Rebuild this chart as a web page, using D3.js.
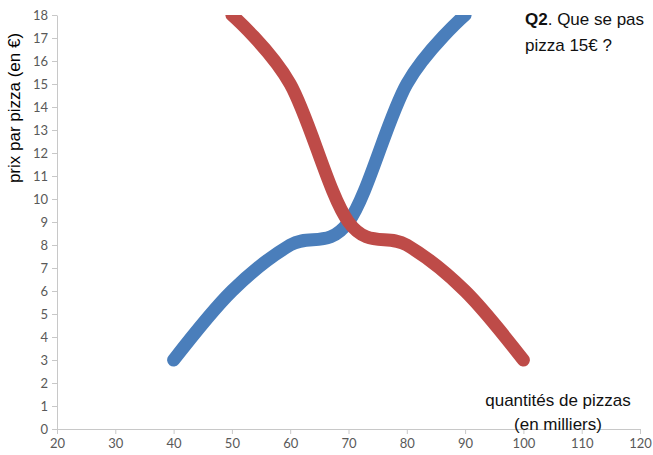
<!DOCTYPE html>
<html>
<head>
<meta charset="utf-8">
<script src="https://cdn.jsdelivr.net/npm/d3@7"></script>
<style>
  html, body { margin: 0; padding: 0; background: #fff; }
  svg { display: block; }
</style>
</head>
<body>
<script>
// Supply / demand data (quantity in thousands, price in €)
const xTicks = [20, 30, 40, 50, 60, 70, 80, 90, 100, 110, 120];
const yTicks = [0, 1, 2, 3, 4, 5, 6, 7, 8, 9, 10, 11, 12, 13, 14, 15, 16, 17, 18];
const offreQty = [40, 50, 60, 70, 80, 90];
const offrePrix = [3, 6, 8, 9, 15, 18];
const demandeQty = [50, 60, 70, 80, 90, 100];
const demandePrix = [18, 15, 9, 8, 6, 3];

const W = 653, H = 455;
const svg = d3.select("body").append("svg").attr("width", W).attr("height", H);

const x = d3.scaleLinear().domain([20, 120]).range([57, 640]);
const y = d3.scaleLinear().domain([0, 18]).range([429, 15]);

// plot area clip (curves are cut at the top of the value range)
svg.append("clipPath").attr("id", "plot")
  .append("rect")
  .attr("x", 0).attr("y", y(18))
  .attr("width", W).attr("height", H - y(18));

// axes
const xAxis = d3.axisBottom(x).tickValues(xTicks).tickSize(5).tickSizeOuter(0);
const yAxis = d3.axisLeft(y).tickValues(yTicks).tickSize(5).tickSizeOuter(0);

const gx = svg.append("g").attr("transform", `translate(0,${y(0)})`).call(xAxis);
const gy = svg.append("g").attr("transform", `translate(${x(20)},0)`).call(yAxis);

[gx, gy].forEach(g => {
  g.select(".domain").attr("stroke", "#c8c8c8").attr("stroke-width", 1);
  g.selectAll(".tick line").attr("stroke", "#c8c8c8");
  g.selectAll(".tick text")
    .attr("fill", "#595959")
    .style("font-family", "Lato, 'Open Sans', sans-serif")
    .style("font-size", "13px");
});
gx.selectAll(".tick text").attr("dy", "0.95em").attr("y", 7);
gy.selectAll(".tick text").attr("x", -9);

// curves
const line = d3.line()
  .x(d => x(d[0]))
  .y(d => y(d[1]))
  .curve(d3.curveCatmullRom.alpha(0));

const curves = svg.append("g").attr("clip-path", "url(#plot)");

curves.append("path")
  .datum(offreQty.map((q, i) => [q, offrePrix[i]]))
  .attr("d", line)
  .attr("fill", "none")
  .attr("stroke", "#4a7ebb")
  .attr("stroke-width", 13)
  .attr("stroke-linecap", "round")
  .attr("stroke-linejoin", "round");

curves.append("path")
  .datum(demandeQty.map((q, i) => [q, demandePrix[i]]))
  .attr("d", line)
  .attr("fill", "none")
  .attr("stroke", "#be4b48")
  .attr("stroke-width", 13)
  .attr("stroke-linecap", "round")
  .attr("stroke-linejoin", "round");

// axis titles
const font = "'Liberation Sans', Arial, sans-serif";
svg.append("text")
  .attr("transform", `translate(20,${108}) rotate(-90)`)
  .attr("text-anchor", "middle")
  .style("font-family", font)
  .style("font-size", "17px")
  .attr("fill", "#000")
  .text("prix par pizza (en €)");

const xt = svg.append("text")
  .attr("text-anchor", "middle")
  .style("font-family", font)
  .style("font-size", "17px")
  .attr("fill", "#111");
xt.append("tspan").attr("x", 558).attr("y", 406).text("quantités de pizzas");
xt.append("tspan").attr("x", 558).attr("y", 430).text("(en milliers)");

// question text
const q = svg.append("text")
  .style("font-family", font)
  .style("font-size", "17px")
  .attr("fill", "#111");
const l1 = q.append("tspan").attr("x", 525).attr("y", 25);
l1.append("tspan").style("font-weight", "bold").text("Q2");
l1.append("tspan").text(". Que se pas");
q.append("tspan").attr("x", 525).attr("y", 51).text("pizza 15€ ?");
</script>
</body>
</html>
